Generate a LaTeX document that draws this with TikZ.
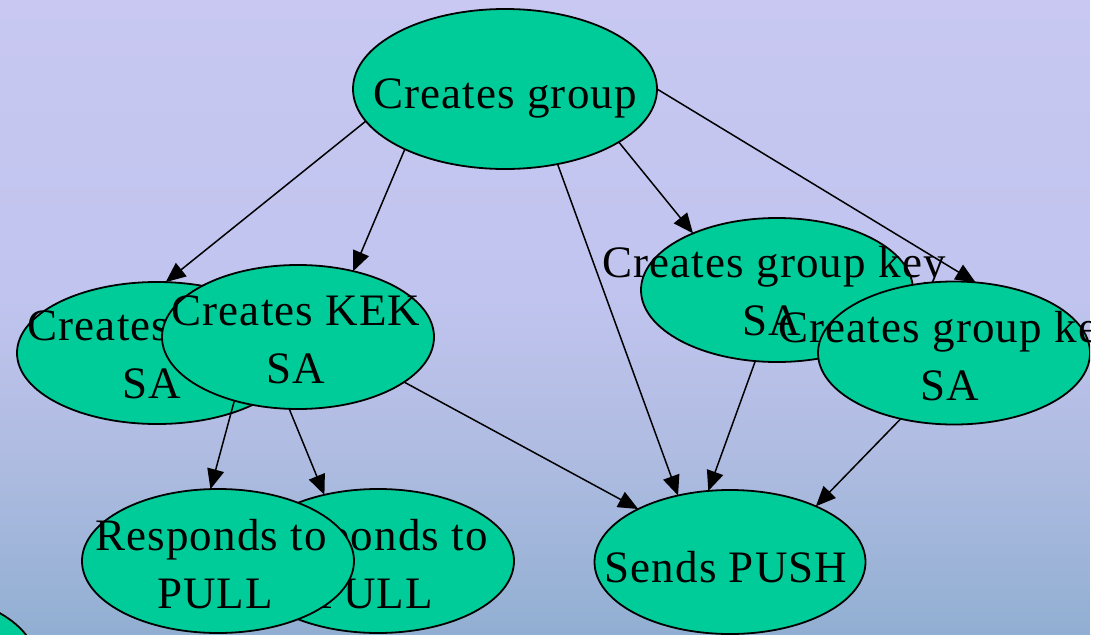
\documentclass[tikz,border=0pt]{standalone}
\usepackage{fontspec}
\setmainfont{Liberation Serif}[LetterSpace=2.5]
\usetikzlibrary{shapes.geometric,arrows.meta}
\definecolor{nodegreen}{RGB}{0,204,153}
\definecolor{bgtop}{RGB}{200,200,242}
\definecolor{bgmid}{RGB}{192,196,238}
\definecolor{bglow}{RGB}{176,188,226}
\definecolor{bgbot}{RGB}{145,175,210}
\pgfdeclareverticalshading{bgshade}{100bp}{color(0bp)=(bgbot); color(25bp)=(bgbot); color(39.5bp)=(bglow); color(51.5bp)=(bgmid); color(75bp)=(bgtop); color(100bp)=(bgtop)}
\tikzset{
  ell/.style={ellipse, draw=black, line width=1.8pt, fill=nodegreen, inner sep=0pt, outer sep=0pt},
  txt/.style={inner sep=0pt, anchor=base, font=\fontsize{45}{58}\selectfont},
  arr/.style={line width=1.5pt, -{Triangle[length=20pt,width=17pt]}},
}
\begin{document}
\begin{tikzpicture}[x=1pt,y=-1pt]
\useasboundingbox (0,0) rectangle (1102,634);
\shade[shading=bgshade] (0,0) rectangle (1090,634);
\fill[white] (1090,0) rectangle (1102,634);
\begin{scope}
\clip (0,0) rectangle (1090,634);
% partial node at bottom left
\node[ell, minimum width=272pt, minimum height=144pt] (corner) at (-100,662) {};
% Creates group
\node[ell, minimum width=304pt, minimum height=160pt] (cg) at (505,89) {};
\node[txt] at (505,108) {Creates group};
% hidden SA node
\node[ell, minimum width=280pt, minimum height=142pt] (sa0) at (157,353) {};
\node[txt] at (152,340) {Creates KEK};
\node[txt] at (152,398) {SA};
% Creates KEK SA
\node[ell, minimum width=272pt, minimum height=144pt] (kek) at (298,337) {};
\node[txt] at (296,325) {Creates KEK};
\node[txt] at (296,383) {SA};
% Creates group key SA (1)
\node[ell, minimum width=272pt, minimum height=144pt] (key1) at (777,290) {};
\node[txt] at (774,277) {Creates group key};
\node[txt] at (772,335) {SA};
% Creates group key SA (2)
\node[ell, minimum width=272pt, minimum height=143pt] (key2) at (954,353) {};
\node[txt] at (950,342) {Creates group key};
\node[txt] at (950,400) {SA};
% Responds to PULL (back)
\node[ell, minimum width=272pt, minimum height=144pt] (respb) at (378,561) {};
\node[txt] at (372,550) {Responds to};
\node[txt] at (375,608) {PULL};
% Responds to PULL (front)
\node[ell, minimum width=272pt, minimum height=144pt] (respf) at (218,561) {};
\node[txt] at (211,550) {Responds to};
\node[txt] at (215,608) {PULL};
% Sends PUSH
\node[ell, minimum width=271pt, minimum height=144pt] (push) at (730,562) {};
\node[txt] at (726,582) {Sends PUSH};
% edges
\draw[arr] (cg.193.7) -- (sa0.83.5);
\draw[arr] (cg.211.5) -- (kek.50.7);
\draw[arr] (cg.305) -- (push.128.4);
\draw[arr] (cg.335) -- (key1.146.9);
\draw[arr] (cg.0) -- (key2.73.5);
\draw[arr] (kek.225.9) -- (respf.96.3);
\draw[arr] (kek.263.7) -- (respb.129.2);
\draw[arr] (kek.337.6) -- (push.150.9);
\draw[arr] (key1.253) -- (push.107);
\draw[arr] (key2.231.9) -- (push.33);
\end{scope}
\end{tikzpicture}
\end{document}
